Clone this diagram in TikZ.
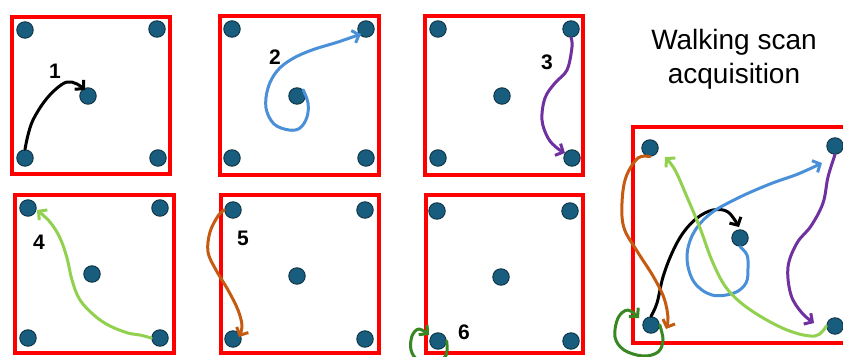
\documentclass[tikz,border=0pt]{standalone}
\usepackage{fontspec}
\setmainfont{Liberation Sans}
\usetikzlibrary{arrows.meta}
\definecolor{dotc}{RGB}{24,92,126}
\definecolor{cblue}{RGB}{74,144,217}
\definecolor{cpurple}{RGB}{112,48,160}
\definecolor{clgreen}{RGB}{146,208,80}
\definecolor{corange}{RGB}{197,90,17}
\definecolor{cdgreen}{RGB}{56,135,35}
\begin{document}
\begin{tikzpicture}[x=1pt,y=-1pt,
  dot/.style={circle,fill=dotc,draw=dotc!55!black,line width=0.9pt,minimum size=16.5pt,inner sep=0pt},
  frame/.style={draw=red,line width=4.5pt},
  num/.style={font=\fontsize{21}{21}\selectfont\bfseries},
  title/.style={font=\fontsize{28}{28}\selectfont},
  stroke/.style={line width=3pt,line cap=round,line join=round,-{Straight Barb[length=6pt,width=13pt]}},
  ]
\useasboundingbox (0,0) rectangle (843,356);
\clip (0,0) rectangle (843,356);
\fill[white] (0,0) rectangle (843,356);

% frames
\draw[frame] (12,17) rectangle (170,174);
\draw[frame] (220,16) rectangle (379,175);
\draw[frame] (425,16) rectangle (583,175);
\draw[frame] (15,195) rectangle (174,353);
\draw[frame] (221,195) rectangle (379,353);
\draw[frame] (426,195) rectangle (583,353);
\draw[frame] (633,127) rectangle (870,343);

% dots panel 1
\node[dot] (a1) at (25,30) {};
\node[dot] (a2) at (157,29) {};
\node[dot] (a0) at (88,96) {};
\node[dot] (a3) at (25,158) {};
\node[dot] (a4) at (158,158) {};
% panel 2
\node[dot] (b1) at (232,29) {};
\node[dot] (b2) at (366,29) {};
\node[dot] (b0) at (297,96) {};
\node[dot] (b3) at (232,158) {};
\node[dot] (b4) at (366,158) {};
% panel 3
\node[dot] (c1) at (438,29) {};
\node[dot] (c2) at (571,29) {};
\node[dot] (c0) at (502,96) {};
\node[dot] (c3) at (438,158) {};
\node[dot] (c4) at (572,158) {};
% panel 4
\node[dot] (d1) at (28,208) {};
\node[dot] (d2) at (160,208) {};
\node[dot] (d0) at (92,274) {};
\node[dot] (d3) at (28,338) {};
\node[dot] (d4) at (160,338) {};
% panel 5
\node[dot] (f1) at (233,210) {};
\node[dot] (f2) at (365,210) {};
\node[dot] (f0) at (297,276) {};
\node[dot] (f3) at (233,339) {};
\node[dot] (f4) at (365,339) {};
% panel 6
\node[dot] (g1) at (437,211) {};
\node[dot] (g2) at (570,211) {};
\node[dot] (g0) at (501,277) {};
\node[dot] (g3) at (438,341) {};
\node[dot] (g4) at (571,341) {};
% combined
\node[dot] (e1) at (650,148) {};
\node[dot] (e2) at (835,146) {};
\node[dot] (e0) at (740,238) {};
\node[dot] (e3) at (651,325) {};
\node[dot] (e4) at (835,326) {};

% labels
\node[num] (l1) at (55,71) {1};
\node[num] (l2) at (275,57) {2};
\node[num] (l3) at (547,62) {3};
\node[num] (l4) at (39,242) {4};
\node[num] (l5) at (243,238) {5};
\node[num] (l6) at (464,332) {6};
\node[title] (t1) at (734,42) {Walking scan};
\node[title] (t2) at (734,76) {acquisition};

% panel curves
\draw[stroke,black] plot[smooth,tension=0.6] coordinates {(a3.north) (28,135) (33,120) (44,102) (56,89) (67,82) (77,84) (85,90)};
\draw[stroke,cblue] plot[smooth,tension=0.6] coordinates {(b0.north east) (308,103) (307,117) (300,128) (289,130) (274,124) (266,108) (268,88) (277,71) (292,59) (312,50) (338,42) (361,34)};
\draw[stroke,cpurple] plot[smooth,tension=0.6] coordinates {(c2.south) (572,47) (567,70) (555,83) (545,98) (542,120) (548,138) (557,148) (565,153)};
\draw[stroke,clgreen] plot[smooth,tension=0.6] coordinates {(d4.west) (140,335) (128,333) (110,326) (95,316) (80,300) (72,280) (67,258) (60,238) (50,222) (37,210)};
\draw[stroke,corange] plot[smooth,tension=0.6] coordinates {(f1.west) (218,216) (210,232) (208,252) (216,270) (228,290) (238,310) (242,326) (239,337)};
\draw[stroke,cdgreen] plot[smooth,tension=0.6] coordinates {(g3.east) (447,351) (444,358) (432,362) (418,360) (411,350) (412,336) (419,329) (429,335)};

% combined curves
\draw[stroke,black] plot[smooth,tension=0.6] coordinates {(e3.north) (657,303) (663,277) (672,253) (683,233) (697,218) (713,210) (728,212) (739,227)};
\draw[stroke,cblue] plot[smooth,tension=0.6] coordinates {(e0.south) (747,255) (748,268) (746,283) (734,293) (712,295) (694,282) (687,258) (693,234) (710,214) (738,198) (770,184) (798,174) (822,163)};
\draw[stroke,cpurple] plot[smooth,tension=0.6] coordinates {(e2.south) (828,177) (823,203) (811,226) (797,243) (788,267) (791,295) (802,313) (814,323)};
\draw[stroke,clgreen] plot[smooth,tension=0.6] coordinates {(e4.west) (815,336) (787,330) (752,311) (728,290) (713,263) (700,228) (687,197) (675,170) (665,157)};
\draw[stroke,corange] plot[smooth,tension=0.6] coordinates {(e1.south) (638,158) (626,177) (622,203) (624,228) (637,251) (653,276) (664,298) (668,318) (666,329)};
\draw[stroke,cdgreen] plot[smooth,tension=0.6] coordinates {(e3.east) (663,340) (658,352) (643,356) (624,350) (615,337) (618,318) (628,310) (639,318)};
\end{tikzpicture}
\end{document}
